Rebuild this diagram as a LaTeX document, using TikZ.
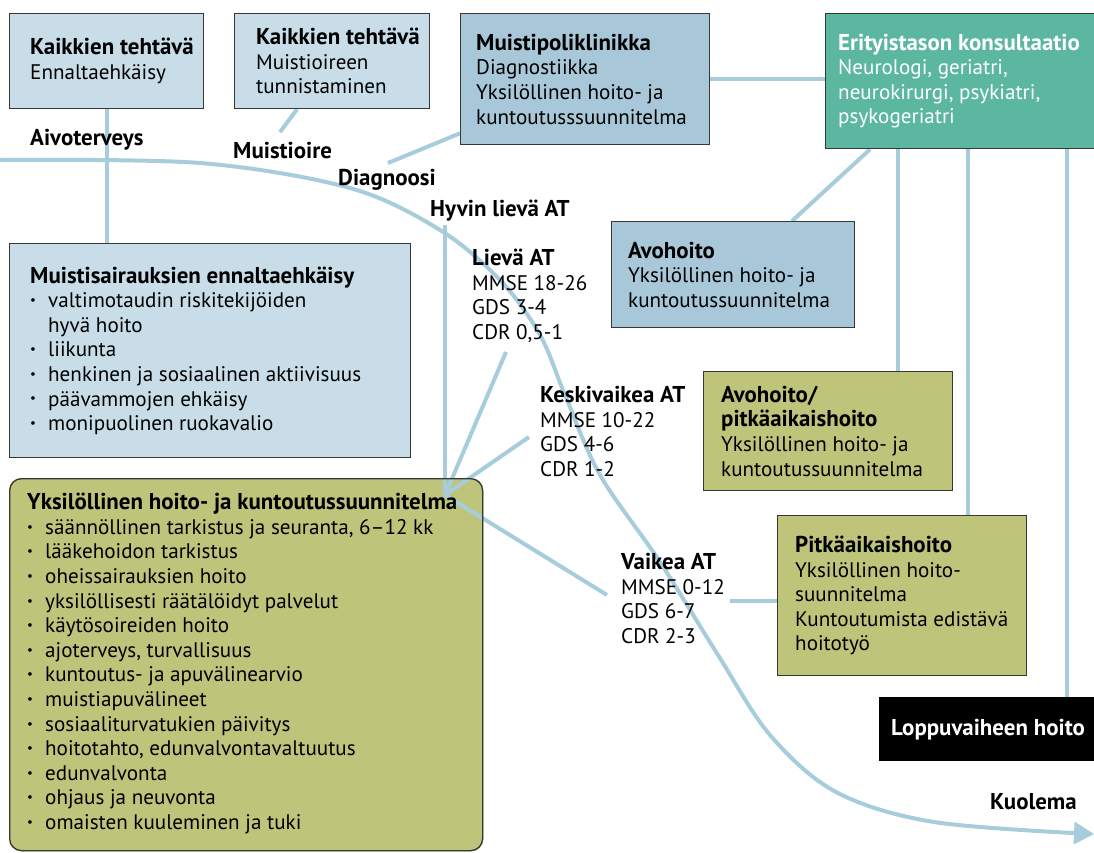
\documentclass[tikz,border=0pt]{standalone}
\usepackage{fontspec}
\setmainfont{PT Sans}
\usetikzlibrary{arrows.meta}
\pgfdeclarelayer{bottom}
\pgfdeclarelayer{lines}
\pgfsetlayers{bottom,lines,main}
\definecolor{cLightBlue}{RGB}{200,221,232}
\definecolor{cMidBlue}{RGB}{168,200,217}
\definecolor{cTeal}{RGB}{92,183,160}
\definecolor{cOlive}{RGB}{190,196,122}
\definecolor{cLine}{RGB}{167,204,220}
\definecolor{cBorder}{RGB}{55,55,55}
\newcommand{\hd}[1]{{\fontsize{22.9}{24.6}\selectfont\bfseries #1}}
\newcommand{\mybul}{\makebox[18pt][l]{\raisebox{0.15em}{\fontsize{13}{13}\selectfont\textbullet}}}
\begin{document}
\begin{tikzpicture}[x=1pt,y=-1pt,
  txt/.style={font=\fontsize{21.1}{24.6}\selectfont},
  box/.style={draw=cBorder, line width=1.3pt, rectangle, anchor=north west, inner sep=0pt},
  boxtxt/.style={txt, anchor=west, align=left, inner sep=0pt},
  lbl/.style={txt, anchor=north west, align=left, inner sep=0pt},
  conn/.style={draw=cLine, line width=4pt}]
\useasboundingbox (0,0) rectangle (1094,852);
% boxes
\node[box, fill=cLightBlue, minimum width=194pt, minimum height=95pt] (A) at (9,13) {};
\node[boxtxt] (At) at ([xshift=21pt]A.west) {\hd{Kaikkien tehtävä}\\Ennaltaehkäisy};
\node[box, fill=cLightBlue, minimum width=195pt, minimum height=95pt] (B) at (234,13) {};
\node[boxtxt] (Bt) at ([xshift=22pt]B.west) {\hd{Kaikkien tehtävä}\\Muistioireen\\tunnistaminen};
\node[box, fill=cMidBlue, minimum width=249pt, minimum height=131pt] (C) at (460,13) {};
\node[boxtxt] (Ct) at ([xshift=16pt]C.west) {\hd{Muistipoliklinikka}\\Diagnostiikka\\Yksilöllinen hoito- ja\\kuntoutusssuunnitelma};
\node[box, fill=cTeal, minimum width=275pt, minimum height=135pt] (D) at (825,13) {};
\node[boxtxt, text=white] (Dt) at ([xshift=13pt]D.west) {\hd{Erityistason konsultaatio}\\Neurologi, geriatri,\\neurokirurgi, psykiatri,\\psykogeriatri};
\node[box, fill=cMidBlue, minimum width=243pt, minimum height=106pt] (E) at (611,221) {};
\node[boxtxt] (Et) at ([xshift=17pt]E.west) {\hd{Avohoito}\\Yksilöllinen hoito- ja\\kuntoutussuunnitelma};
\node[box, fill=cOlive, minimum width=249pt, minimum height=119pt] (F) at (703,371) {};
\node[boxtxt] (Ft) at ([xshift=18pt]F.west) {\hd{Avohoito/}\\\hd{pitkäaikaishoito}\\Yksilöllinen hoito- ja\\kuntoutussuunnitelma};
\node[box, fill=cOlive, minimum width=249pt, minimum height=160pt] (G) at (777,515) {};
\node[boxtxt] (Gt) at ([xshift=18pt]G.west) {\hd{Pitkäaikaishoito}\\Yksilöllinen hoito-\\suunnitelma\\Kuntoutumista edistävä\\hoitotyö};
\node[box, fill=black, draw=black, minimum width=220pt, minimum height=63pt] (H) at (879,697) {};
\node[boxtxt, text=white] (Ht) at ([xshift=12pt]H.west) {\hd{Loppuvaiheen hoito}};
\node[box, fill=cLightBlue, minimum width=401pt, minimum height=214pt] (I) at (9,243) {};
\node[boxtxt] (It) at ([xshift=21pt]I.west)
  {\hd{Muistisairauksien ennaltaehkäisy}\\
   \mybul valtimotaudin riskitekijöiden\\
   \hspace*{18pt}hyvä hoito\\
   \mybul liikunta\\
   \mybul henkinen ja sosiaalinen aktiivisuus\\
   \mybul päävammojen ehkäisy\\
   \mybul monipuolinen ruokavalio};
\node[box, rounded corners=12pt, minimum width=473pt, minimum height=372pt] (J) at (9,478) {};
\node[boxtxt] (Jt) at ([xshift=18pt,yshift=1pt]J.west)
  {\hd{Yksilöllinen hoito- ja kuntoutussuunnitelma}\\
   \mybul säännöllinen tarkistus ja seuranta, 6–12 kk\\
   \mybul lääkehoidon tarkistus\\
   \mybul oheissairauksien hoito\\
   \mybul yksilöllisesti räätälöidyt palvelut\\
   \mybul käytösoireiden hoito\\
   \mybul ajoterveys, turvallisuus\\
   \mybul kuntoutus- ja apuvälinearvio\\
   \mybul muistiapuvälineet\\
   \mybul sosiaaliturvatukien päivitys\\
   \mybul hoitotahto, edunvalvontavaltuutus\\
   \mybul edunvalvonta\\
   \mybul ohjaus ja neuvonta\\
   \mybul omaisten kuuleminen ja tuki};
\begin{pgfonlayer}{bottom}
  \fill[cOlive, rounded corners=12pt] (J.north west) rectangle (J.south east);
\end{pgfonlayer}
% labels
\node[lbl] (aivo) at (30,129) {\hd{Aivoterveys}};
\node[lbl] (muistioire) at (233,142) {\hd{Muistioire}};
\node[lbl] (diag) at (338,169) {\hd{Diagnoosi}};
\node[lbl] (hyvin) at (430,200) {\hd{Hyvin lievä AT}};
\node[lbl] (lieva) at (472,249) {\hd{Lievä AT}\\MMSE 18-26\\GDS 3-4\\CDR 0,5-1};
\node[lbl] (keski) at (540,386) {\hd{Keskivaikea AT}\\MMSE 10-22\\GDS 4-6\\CDR 1-2};
\node[lbl] (vaikea) at (621,553) {\hd{Vaikea AT}\\MMSE 0-12\\GDS 6-7\\CDR 2-3};
\node[lbl] (kuolema) at (990,793) {\hd{Kuolema}};
% connectors
\coordinate (cstart) at (0,160);
\coordinate (cend) at (1094,834);
\coordinate (conv) at (445,495);
\coordinate (hl) at (445,225);
\coordinate (lv) at (506,352);
\coordinate (kv) at (529,437);
\coordinate (va) at (607,595);
\coordinate (vb) at (730,601);
\coordinate (mo) at (280,132);
\coordinate (dg) at (388,163);
\begin{pgfonlayer}{lines}
\draw[conn, -{Triangle[length=20pt,width=22pt]}] plot[smooth, tension=0.55] coordinates
  {(cstart) (200,163) (350,188) (440,230) (500,280) (540,335) (565,395) (600,475) (660,562) (718,655) (770,735) (836,792) (934,822) (cend)};
\draw[conn] (A.south) -- (A.south |- I.north);
\draw[conn] ([xshift=63pt]B.south west) -- (mo);
\draw[conn] ([yshift=12pt]C.south west) -- (dg);
\draw[conn] (C.east) -- (C.east -| D.west);
\draw[conn] ([xshift=45pt]D.south west) -- ([xshift=181pt]E.north west);
\draw[conn] ([xshift=73pt]D.south west) -- ([xshift=73pt]D.south west |- F.north);
\draw[conn] ([xshift=143pt]D.south west) -- ([xshift=143pt]D.south west |- G.north);
\draw[conn] ([xshift=242pt]D.south west) -- ([xshift=242pt]D.south west |- H.north);
\draw[conn] (hl) -- (conv);
\draw[conn] (lv) -- (conv);
\draw[conn] (kv) -- (conv);
\draw[conn] (va) -- (conv);
\draw[conn] (vb) -- (vb -| G.west);
\end{pgfonlayer}
\end{tikzpicture}
\end{document}
